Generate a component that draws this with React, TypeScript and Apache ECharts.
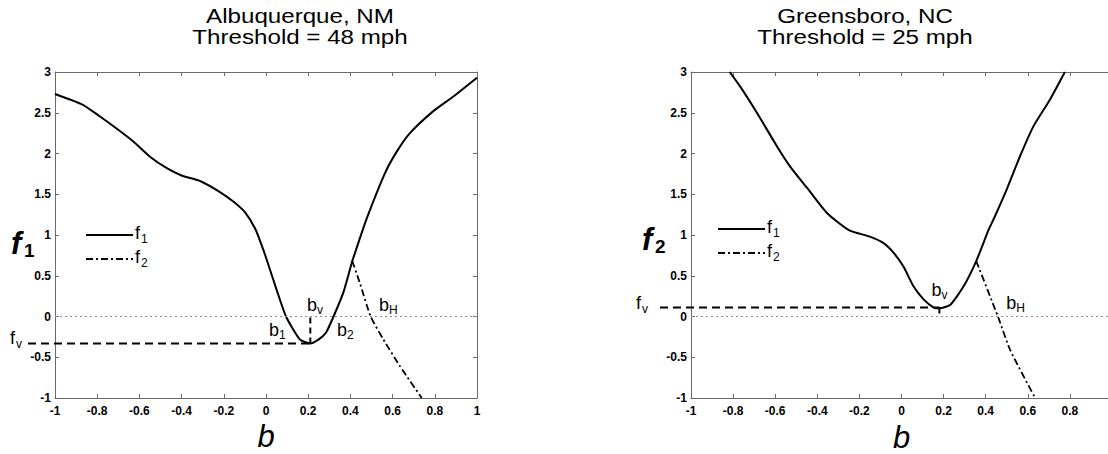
import React, { useEffect, useRef } from "react";
import * as echarts from "echarts";

// ---------- data ----------
const xMin = -1;
const xMax = 1;
const xStep = 0.2;
const yMin = -1;
const yMax = 3;
const yStep = 0.5;

const titleAlbuquerque = ["Albuquerque, NM", "Threshold = 48 mph"];
const titleGreensboro = ["Greensboro, NC", "Threshold = 25 mph"];

const f1Albuquerque: [number, number][] = [
  [-1, 2.73], [-0.87, 2.6], [-0.79, 2.46], [-0.71, 2.31], [-0.63, 2.15],
  [-0.55, 1.96], [-0.47, 1.82], [-0.4, 1.73], [-0.31, 1.66], [-0.22, 1.53],
  [-0.155, 1.41], [-0.1, 1.28], [-0.05, 1.07], [-0.013, 0.82], [0.003, 0.7],
  [0.05, 0.33], [0.095, 0], [0.16, -0.28], [0.21, -0.33], [0.25, -0.28],
  [0.284, -0.2], [0.32, 0], [0.366, 0.29], [0.409, 0.68], [0.427, 0.82],
  [0.477, 1.2], [0.564, 1.76], [0.619, 2.02], [0.682, 2.25], [0.793, 2.52],
  [0.888, 2.7], [1.0, 2.93],
];
const f2Albuquerque: [number, number][] = [
  [0.409, 0.68], [0.445, 0.41], [0.496, 0], [0.556, -0.28], [0.635, -0.61], [0.738, -1],
];
const fvAlbuquerque = -0.33;
const bvAlbuquerque = 0.21;

const f1Greensboro: [number, number][] = [
  [-0.816, 3.0], [-0.766, 2.82], [-0.687, 2.5], [-0.592, 2.09], [-0.529, 1.84],
  [-0.449, 1.58], [-0.354, 1.27], [-0.25, 1.06], [-0.15, 0.98], [-0.085, 0.9],
  [-0.037, 0.78], [0.01, 0.61], [0.057, 0.37], [0.105, 0.21], [0.153, 0.11],
  [0.181, 0.1], [0.232, 0.145], [0.295, 0.37], [0.355, 0.68], [0.414, 1.065],
  [0.437, 1.19], [0.5, 1.56], [0.562, 1.96], [0.626, 2.33], [0.705, 2.66],
  [0.776, 3.0],
];
const f2Greensboro: [number, number][] = [
  [0.355, 0.68], [0.461, -0.02], [0.516, -0.41], [0.635, -1.0],
];
const fvGreensboro = 0.11;
const bvGreensboro = 0.18;

// annotation anchors in data units
const labelsAlbuquerque = [
  { base: "b", sub: "1", at: [0.057, -0.16] },
  { base: "b", sub: "v", at: [0.237, 0.145] },
  { base: "b", sub: "2", at: [0.379, -0.16] },
  { base: "b", sub: "H", at: [0.578, 0.145] },
];
const labelsGreensboro = [
  { base: "b", sub: "v", at: [0.185, 0.33] },
  { base: "b", sub: "H", at: [0.54, 0.17] },
];

// ---------- styling ----------
const FONT = '"Liberation Sans", Arial, Helvetica, sans-serif';
const GRIDS = [
  { left: 55, top: 72, width: 422, height: 326 },
  { left: 691, top: 72, width: 421, height: 326 },
];
const AXIS_COLOR = "#6a6a6a";

function textEl(
  x: number,
  y: number,
  text: string,
  font: string,
  align = "left",
  vAlign = "middle",
  scaleX = 1
) {
  return {
    type: "text",
    silent: true,
    x,
    y,
    scaleX,
    z: 20,
    style: {
      text,
      x: 0,
      y: 0,
      font,
      fill: "#000",
      align,
      verticalAlign: vAlign,
      textAlign: align,
      textVerticalAlign: vAlign,
    },
  };
}

function subText(
  x: number,
  y: number,
  base: string,
  sub: string,
  size: number,
  subSize: number,
  baseW: number,
  dy: number,
  style = "normal",
  weight = "normal",
  subWeight = "normal"
) {
  return [
    textEl(x, y, base, `${style} ${weight} ${size}px ${FONT}`),
    textEl(x + baseW, y + dy, sub, `normal ${subWeight} ${subSize}px ${FONT}`),
  ];
}

function axesX(gi: number, showMax: boolean) {
  const common = {
    type: "value",
    gridIndex: gi,
    min: xMin,
    max: xMax,
    interval: xStep,
    splitLine: { show: false },
    axisLine: { onZero: false, lineStyle: { color: AXIS_COLOR, width: 1 } },
    axisTick: { inside: true, length: 4, lineStyle: { color: AXIS_COLOR } },
  };
  return [
    {
      ...common,
      position: "bottom",
      axisLabel: {
        color: "#000",
        fontSize: 12,
        fontWeight: "bold",
        fontFamily: FONT,
        margin: 7,
        showMaxLabel: showMax,
      },
    },
    { ...common, position: "top", axisLabel: { show: false } },
  ];
}

function axesY(gi: number) {
  const common = {
    type: "value",
    gridIndex: gi,
    min: yMin,
    max: yMax,
    interval: yStep,
    splitLine: { show: false },
    axisLine: { onZero: false, lineStyle: { color: AXIS_COLOR, width: 1 } },
    axisTick: { inside: true, length: 4, lineStyle: { color: AXIS_COLOR } },
  };
  return [
    {
      ...common,
      position: "left",
      axisLabel: { color: "#000", fontSize: 12, fontWeight: "bold", fontFamily: FONT, margin: 4 },
    },
    { ...common, position: "right", axisLabel: { show: false } },
  ];
}

function seriesFor(gi: number, f1: [number, number][], f2: [number, number][], fv: number, bv: number) {
  const xi = gi * 2;
  const yi = gi * 2;
  return [
    {
      type: "line",
      xAxisIndex: xi,
      yAxisIndex: yi,
      data: f1,
      showSymbol: false,
      smooth: 0.2,
      lineStyle: { color: "#000", width: 2 },
      markLine: {
        silent: true,
        symbol: "none",
        label: { show: false },
        lineStyle: { color: "#8a8a8a", width: 1, type: [2, 3] },
        data: [{ yAxis: 0 }],
      },
      z: 3,
    },
    {
      type: "line",
      xAxisIndex: xi,
      yAxisIndex: yi,
      data: f2,
      showSymbol: false,
      smooth: 0.2,
      lineStyle: { color: "#000", width: 1.8, type: [7, 3, 2, 3] },
      z: 3,
    },
    {
      type: "line",
      xAxisIndex: xi,
      yAxisIndex: yi,
      data: [
        [bv, fv],
        [bv, 0],
      ],
      showSymbol: false,
      lineStyle: { color: "#000", width: 2, type: [6, 4] },
      z: 2,
    },
  ];
}

export default function App() {
  const ref = useRef<HTMLDivElement>(null);

  useEffect(() => {
    if (!ref.current) return;
    const chart = echarts.init(ref.current, undefined, { renderer: "svg" });
    chart.setOption({
      animation: false,
      backgroundColor: "#fff",
      grid: GRIDS.map((g) => ({ ...g, containLabel: false, outerBoundsMode: "none" })),
      xAxis: [...axesX(0, true), ...axesX(1, false)],
      yAxis: [...axesY(0), ...axesY(1)],
      series: [
        ...seriesFor(0, f1Albuquerque, f2Albuquerque, fvAlbuquerque, bvAlbuquerque),
        ...seriesFor(1, f1Greensboro, f2Greensboro, fvGreensboro, bvGreensboro),
      ],
    });

    const px = (gi: number, p: number[]) =>
      chart.convertToPixel({ xAxisIndex: gi * 2, yAxisIndex: gi * 2 } as any, p) as number[];

    const graphics: any[] = [];

    // titles
    const titleFont = `normal normal 21px ${FONT}`;
    const cx0 = 300;
    const cx1 = 865;
    titleAlbuquerque.forEach((t, i) => graphics.push(textEl(cx0, 16 + i * 21, t, titleFont, "center", "middle", 1.15)));
    titleGreensboro.forEach((t, i) => graphics.push(textEl(cx1, 16 + i * 21, t, titleFont, "center", "middle", 1.15)));

    // axis names
    graphics.push(...subText(11, 243, "f", "1", 31, 19, 13, 7, "italic", "bold", "bold"));
    graphics.push(...subText(642, 239, "f", "2", 31, 19, 13, 7, "italic", "bold", "bold"));
    graphics.push(textEl(GRIDS[0].left + GRIDS[0].width / 2, 436, "b", `italic normal 31px ${FONT}`, "center"));
    graphics.push(textEl(GRIDS[1].left + GRIDS[1].width / 2, 437, "b", `italic normal 31px ${FONT}`, "center"));

    // legends
    const legends = [
      { x0: 86, x1: 133, y1: 235, y2: 259, tx: 135 },
      { x0: 718, x1: 765, y1: 229, y2: 253, tx: 767 },
    ];
    legends.forEach((l) => {
      graphics.push({
        type: "line",
        silent: true,
        shape: { x1: l.x0, y1: l.y1, x2: l.x1, y2: l.y1 },
        style: { stroke: "#000", lineWidth: 2 },
      });
      graphics.push({
        type: "line",
        silent: true,
        shape: { x1: l.x0, y1: l.y2, x2: l.x1, y2: l.y2 },
        style: { stroke: "#000", lineWidth: 1.8, lineDash: [7, 3, 2, 3] },
      });
      graphics.push(...subText(l.tx, l.y1 - 2, "f", "1", 18, 12, 6, 6));
      graphics.push(...subText(l.tx, l.y2 - 2, "f", "2", 18, 12, 6, 6));
    });

    // fv dashed lines + labels
    const fvDefs = [
      { gi: 0, fv: fvAlbuquerque, bv: bvAlbuquerque, startX: 28, labelX: 10 },
      { gi: 1, fv: fvGreensboro, bv: bvGreensboro, startX: 660, labelX: 636 },
    ];
    fvDefs.forEach((d) => {
      const p = px(d.gi, [d.bv, d.fv]);
      graphics.push({
        type: "line",
        silent: true,
        z: 10,
        shape: { x1: d.startX, y1: p[1], x2: p[0], y2: p[1] },
        style: { stroke: "#000", lineWidth: 2, lineDash: [8, 5] },
      });
      graphics.push(...subText(d.labelX, p[1] - 5, "f", "v", 18, 12, 6, 6));
    });

    // b labels
    labelsAlbuquerque.forEach((l) => {
      const p = px(0, l.at);
      graphics.push(...subText(p[0] - 9, p[1], l.base, l.sub, 18, 12, 10, 5));
    });
    labelsGreensboro.forEach((l) => {
      const p = px(1, l.at);
      graphics.push(...subText(p[0] - 9, p[1], l.base, l.sub, 18, 12, 10, 5));
    });

    chart.setOption({ graphic: { elements: graphics } });

    return () => chart.dispose();
  }, []);

  return (
    <div
      ref={ref}
      style={{ position: "absolute", left: 0, top: 0, width: 1108, height: 454, background: "#fff" }}
    />
  );
}
